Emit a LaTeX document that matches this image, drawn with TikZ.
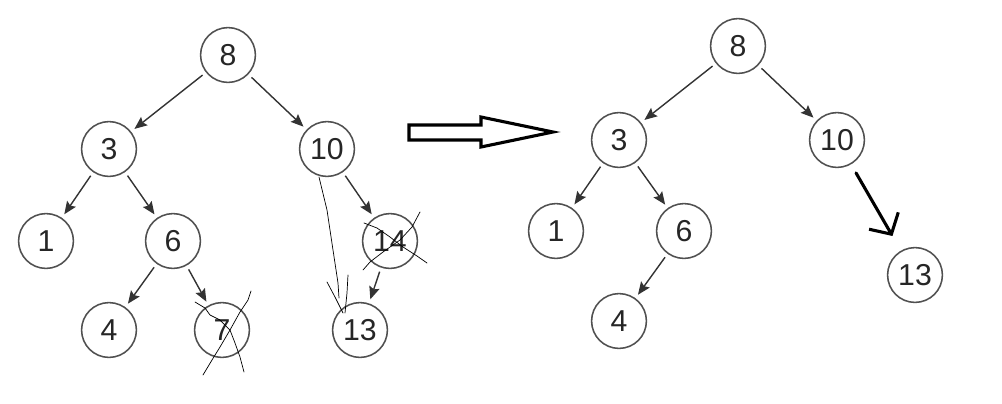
\documentclass[tikz,border=0pt]{standalone}
\usepackage{fontspec}
\setmainfont{Liberation Sans}
\usetikzlibrary{arrows.meta}
\definecolor{edgegray}{HTML}{333333}
\definecolor{ringgray}{HTML}{505050}

\tikzset{
  vertex/.style={circle,draw=ringgray,line width=1.1pt,minimum size=1.37cm,
    inner sep=0pt,text=black!85,font=\fontsize{21.5}{24}\selectfont},
  link/.style={edgegray,line width=1pt,-{Stealth[length=9pt,width=7.5pt,inset=1.5pt]},
    shorten <=3pt,shorten >=3pt},
  scribble/.style={black,line width=0.5pt,line cap=round,line join=round},
  handarrow/.style={black,line width=2.2pt,line cap=round,
    -{Straight Barb[length=11pt,width=24pt,line width=2.2pt]}},
  bigarrow/.style={black,line width=2.2pt,line join=miter}
}

\begin{document}
\begin{tikzpicture}[x=0.025cm,y=-0.025cm]
    \useasboundingbox (0,0) rectangle (1002,403);

    % Tree before deletion
    \node[vertex] (l8)  at (228,55)  {8};
    \node[vertex] (l3)  at (109,149) {3};
    \node[vertex] (l10) at (327,149) {10};
    \node[vertex] (l1)  at (46,241)  {1};
    \node[vertex] (l6)  at (173,241) {6};
    \node[vertex] (l14) at (390,241) {14};
    \node[vertex] (l4)  at (109,330) {4};
    \node[vertex] (l7)  at (222,330) {7};
    \node[vertex] (l13) at (360,330) {13};

    \foreach \a/\b in {l8/l3,l8/l10,l3/l1,l3/l6,l6/l4,l6/l7,l10/l14,l14/l13}
      \draw[link] (\a) -- (\b);

    % Crossed out nodes
    \draw[scribble] (195,302) -- (205,308) -- (210,315) -- (220,320) -- (230,330)
      -- (235,343) -- (240,357) -- (244,372);
    \draw[scribble] (251,291) -- (248,300) -- (240,312) -- (230,330) -- (220,347)
      -- (212,360) -- (203,375);
    \draw[scribble] (364,223) -- (377,228) -- (390,237) -- (403,247) -- (417,256)
      -- (427,263);
    \draw[scribble] (420,212) -- (412,227) -- (400,240) -- (383,252) -- (370,262)
      -- (363,270);

    % Hand drawn link 10 -> 13
    \draw[scribble] (319,177) -- (327,210) -- (333,250) -- (338,283) -- (339,298);
    \draw[scribble] (348,275) -- (347,293) -- (345,313);
    \draw[scribble] (327,282) -- (335,297) -- (343,313);

    % Transition arrow
    \draw[bigarrow] (409,125) -- (481,125) -- (481,117) -- (553,132)
      -- (481,147) -- (481,140) -- (409,140) -- cycle;

    % Tree after deletion
    \node[vertex] (r8)  at (738,46)  {8};
    \node[vertex] (r3)  at (619,140) {3};
    \node[vertex] (r10) at (837,140) {10};
    \node[vertex] (r1)  at (556,231) {1};
    \node[vertex] (r6)  at (684,231) {6};
    \node[vertex] (r4)  at (619,321) {4};
    \node[vertex] (r13) at (915,275) {13};

    \foreach \a/\b in {r8/r3,r8/r10,r3/r1,r3/r6,r6/r4}
      \draw[link] (\a) -- (\b);

    \draw[handarrow,shorten <=7pt,shorten >=12pt] (r10) -- (r13);
\end{tikzpicture}
\end{document}
